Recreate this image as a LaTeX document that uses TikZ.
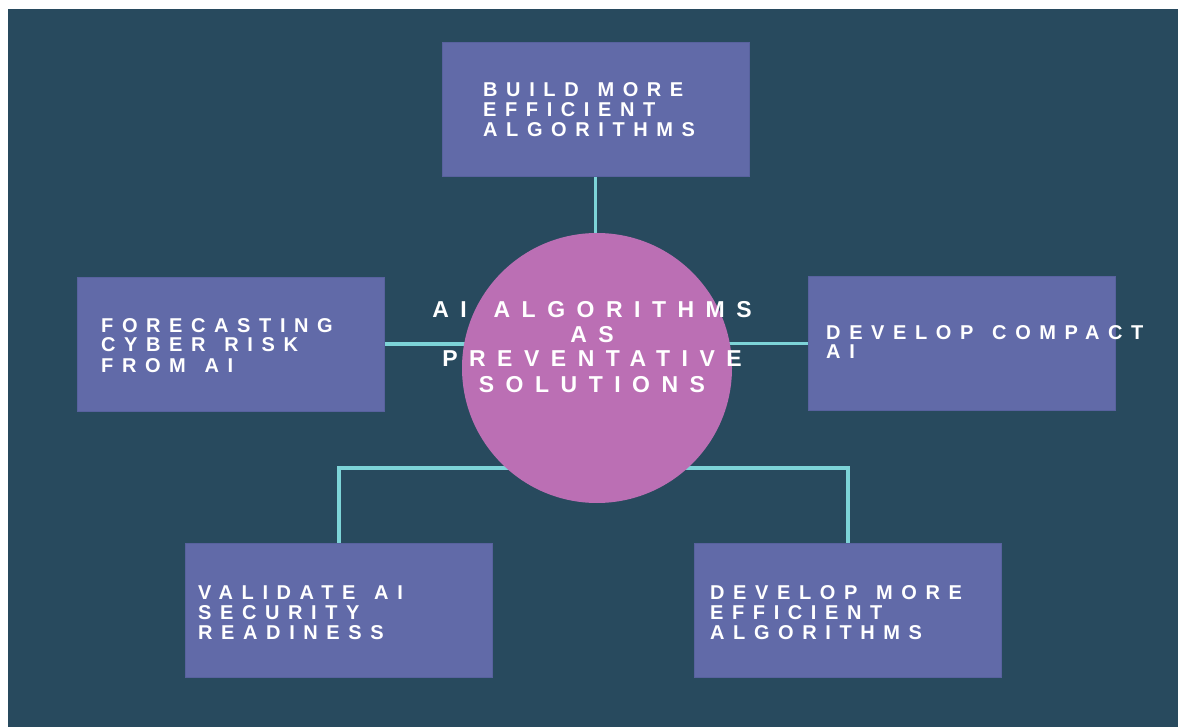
\documentclass[tikz,border=0pt]{standalone}
\usepackage{fontspec}
\newfontfamily\boxfont{Liberation Sans}[LetterSpace=43, WordSpace=1.33]
\newfontfamily\titlefont{Liberation Sans}[LetterSpace=50, WordSpace=1.5]
\definecolor{bgc}{RGB}{40,74,94}
\definecolor{boxc}{RGB}{97,106,168}
\definecolor{boxe}{RGB}{88,98,158}
\definecolor{circc}{RGB}{187,111,180}
\definecolor{linec}{RGB}{125,212,216}
\pgfdeclarelayer{bg}
\pgfdeclarelayer{lines}
\pgfsetlayers{bg,lines,main}
\tikzset{
  box/.style={draw=boxe, line width=0.8pt, fill=boxc, minimum width=307pt, minimum height=134pt, inner sep=0pt},
  btxt/.style={text=white, inner sep=0pt, anchor=base west, font=\boxfont\bfseries\fontsize{20}{20}\selectfont},
  conn/.style={draw=linec, line width=3.5pt, line join=miter},
}
\begin{document}
\begin{tikzpicture}[x=1pt, y=-1pt]
\useasboundingbox (0,0) rectangle (1178,727);
\begin{pgfonlayer}{bg}
\fill[white] (0,0) rectangle (1178,727);
\fill[bgc] (8,9) rectangle (1178,727);
\end{pgfonlayer}

\node[box] (top) at (595.5,109) {};
\node[box] (left) at (231,344) {};
\node[box] (right) at (961.5,343.5) {};
\node[box] (bl) at (339,610) {};
\node[box] (br) at (848,610) {};
\node[circle, fill=circc, minimum size=270pt, inner sep=0pt] (circ) at (597,368) {};

\coordinate (hb) at (597,468);

\begin{pgfonlayer}{lines}
\draw[conn] (top.south) -- (top.south |- circ.center);
\draw[conn] (left.east) -- (left.east -| circ.center);
\draw[conn] (right.west) -- (right.west -| circ.center);
\draw[conn] (bl.north) |- (hb);
\draw[conn] (br.north) |- (hb);
\end{pgfonlayer}

\node[btxt] (toptxt) at (483,97) {\begin{tabular}[t]{@{}l@{}}BUILD MORE\\EFFICIENT\\ALGORITHMS\end{tabular}};
\node[btxt] (lefttxt) at (101,332) {\begin{tabular}[t]{@{}l@{}}FORECASTING\\CYBER RISK\\FROM AI\end{tabular}};
\node[btxt] (righttxt) at (826,339) {\begin{tabular}[t]{@{}l@{}}DEVELOP COMPACT\\AI\end{tabular}};
\node[btxt] (bltxt) at (198,599) {\begin{tabular}[t]{@{}l@{}}VALIDATE AI\\SECURITY\\READINESS\end{tabular}};
\node[btxt] (brtxt) at (710,599) {\begin{tabular}[t]{@{}l@{}}DEVELOP MORE\\EFFICIENT\\ALGORITHMS\end{tabular}};

\node[text=white, inner sep=0pt, anchor=base, font=\titlefont\bfseries\fontsize{23}{25}\selectfont] (title) at (592,317)
  {\begin{tabular}[t]{@{}c@{}}AI ALGORITHMS\\AS\\PREVENTATIVE\\SOLUTIONS\end{tabular}};
\end{tikzpicture}
\end{document}
